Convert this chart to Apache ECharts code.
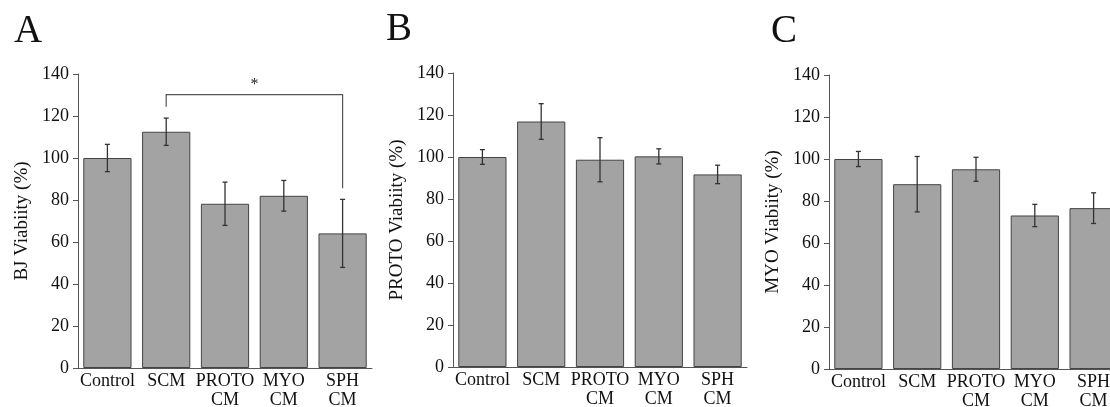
<!DOCTYPE html>
<html>
<head>
<meta charset="UTF-8">
<title>Viability</title>
<script src="https://cdn.jsdelivr.net/npm/echarts@6/dist/echarts.min.js"></script>
<style>
  html, body { margin: 0; padding: 0; background: #fff; }
  #chart { width: 1110px; height: 407px; }
</style>
</head>
<body>
<div id="chart"></div>
<script>
var categories = ['Control', 'SCM', 'PROTO\nCM', 'MYO\nCM', 'SPH\nCM'];
var yTicks = [0, 140, 20]; // min, max, step

var panelLetters = ['A', 'B', 'C'];
var axisNames = ['BJ Viabiity (%)', 'PROTO Viabiity (%)', 'MYO Viabiity (%)'];

// mean values
var bjMean    = [100, 112.5, 78.2, 82.0, 64.1];
var protoMean = [100, 116.9, 98.7, 100.3, 91.7];
var myoMean   = [100, 88.0, 95.1, 73.1, 76.6];

// error (+/-)
var bjErr    = [6.5, 6.5, 10.3, 7.3, 16.2];
var protoErr = [3.5, 8.5, 10.5, 3.6, 4.4];
var myoErr   = [3.6, 13.2, 5.7, 5.3, 7.3];

// significance bracket on panel A: from SCM to SPH CM
var sigFrom = 1, sigTo = 4;
var sigTop = 130.2, sigLeftEnd = 124.4, sigRightEnd = 85.6;
var sigLabel = '*';

var means = [bjMean, protoMean, myoMean];
var errs = [bjErr, protoErr, myoErr];

var FONT = '"Liberation Serif", "Times New Roman", serif';
var axisColor = '#555';

var grids = [
    { left: 78,  top: 74, width: 294, height: 294, outerBoundsMode: 'none' },
    { left: 453, top: 73, width: 294, height: 294, outerBoundsMode: 'none' },
    { left: 829, top: 75, width: 294, height: 294, outerBoundsMode: 'none' }
];
var letterPos = [[14, 12], [386, 10], [771, 12]];

var chart = echarts.init(document.getElementById('chart'));

var xAxes = [], yAxes = [], series = [], graphics = [];

for (var i = 0; i < 3; i++) {
    xAxes.push({
        type: 'category', gridIndex: i, data: categories,
        axisLine: { lineStyle: { color: axisColor, width: 1 } },
        axisTick: { show: false },
        axisLabel: { color: '#111', fontFamily: FONT, fontSize: 18, lineHeight: 19, margin: 4, interval: 0 }
    });
    yAxes.push({
        type: 'value', gridIndex: i, min: yTicks[0], max: yTicks[1], interval: yTicks[2],
        name: axisNames[i], nameLocation: 'middle', nameGap: 46,
        nameTextStyle: { color: '#111', fontFamily: FONT, fontSize: 19 },
        axisLine: { show: true, lineStyle: { color: axisColor, width: 1 } },
        axisTick: { show: true, length: 5, lineStyle: { color: axisColor } },
        axisLabel: { color: '#111', fontFamily: FONT, fontSize: 18, margin: 9 },
        splitLine: { show: false }
    });
    series.push({
        type: 'bar', xAxisIndex: i, yAxisIndex: i, data: means[i],
        barWidth: '82%',
        itemStyle: { color: '#a3a3a3', borderColor: '#444', borderWidth: 1 },
        silent: true
    });
    var errData = means[i].map(function (m, k) { return [k, m - errs[i][k], m + errs[i][k]]; });
    series.push({
        type: 'custom', xAxisIndex: i, yAxisIndex: i, data: errData, z: 5, silent: true,
        renderItem: function (params, api) {
            var lo = api.coord([api.value(0), api.value(1)]);
            var hi = api.coord([api.value(0), api.value(2)]);
            var c = 2.5;
            var st = { stroke: '#333', lineWidth: 1.3 };
            return { type: 'group', children: [
                { type: 'line', shape: { x1: lo[0], y1: lo[1], x2: hi[0], y2: hi[1] }, style: st },
                { type: 'line', shape: { x1: lo[0] - c, y1: lo[1], x2: lo[0] + c, y2: lo[1] }, style: st },
                { type: 'line', shape: { x1: hi[0] - c, y1: hi[1], x2: hi[0] + c, y2: hi[1] }, style: st }
            ]};
        }
    });
    graphics.push({
        type: 'text', left: letterPos[i][0], top: letterPos[i][1],
        style: { text: panelLetters[i], font: '39px ' + FONT, fill: '#111' }
    });
}

// significance bracket on panel A
series.push({
    type: 'custom', xAxisIndex: 0, yAxisIndex: 0, z: 6, silent: true,
    data: [[sigFrom, sigTo, sigTop, sigLeftEnd, sigRightEnd]],
    renderItem: function (params, api) {
        var p1 = api.coord([api.value(0), api.value(3)]);
        var p2 = api.coord([api.value(0), api.value(2)]);
        var p3 = api.coord([api.value(1), api.value(2)]);
        var p4 = api.coord([api.value(1), api.value(4)]);
        return { type: 'group', children: [
            { type: 'polyline', shape: { points: [p1, p2, p3, p4] },
              style: { stroke: '#555', lineWidth: 1.2, fill: null } },
            { type: 'text', x: (p2[0] + p3[0]) / 2, y: p2[1] - 2,
              style: { text: sigLabel, font: '16px ' + FONT, fill: '#222', align: 'center', verticalAlign: 'bottom' } }
        ]};
    }
});

chart.setOption({
    animation: false,
    grid: grids,
    xAxis: xAxes,
    yAxis: yAxes,
    series: series,
    graphic: graphics
});
</script>
</body>
</html>
